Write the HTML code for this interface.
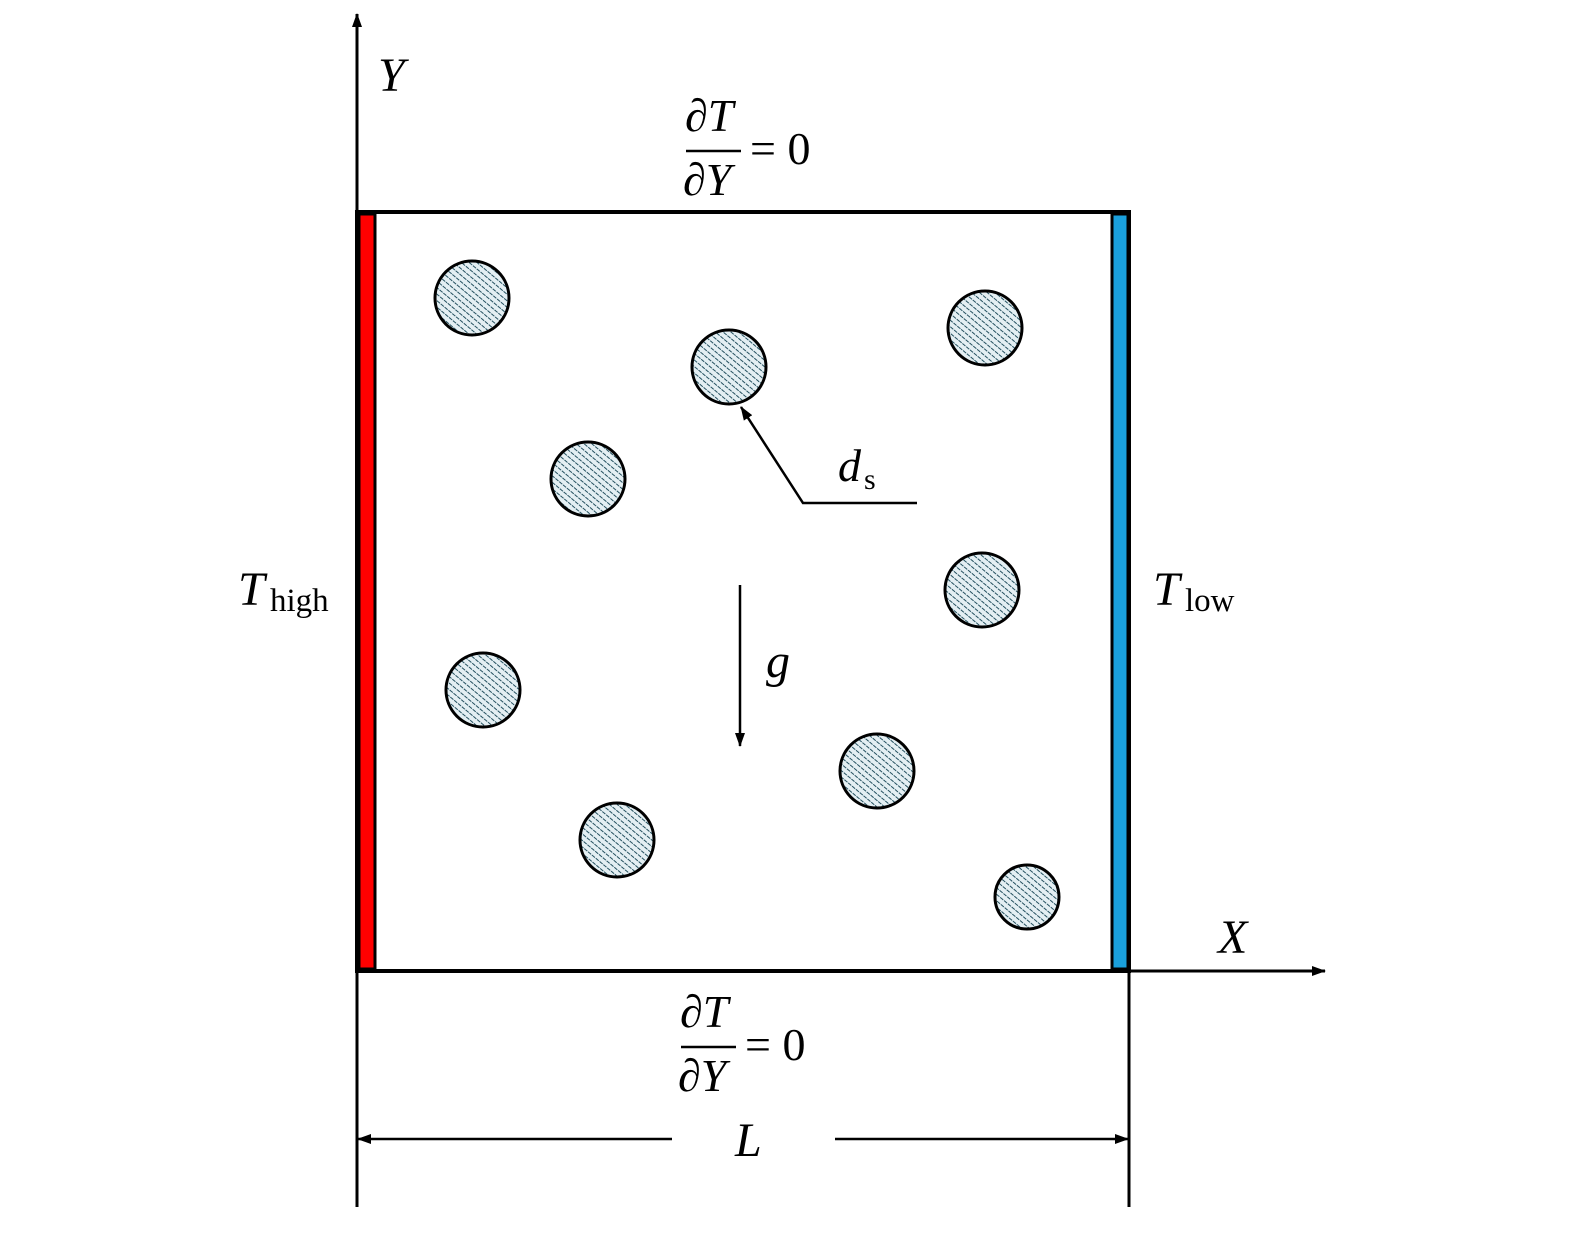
<!DOCTYPE html>
<html><head><style>
html,body{margin:0;padding:0;background:#fff;}
svg text{font-family:"Liberation Serif",serif;fill:#000;}
.i{font-style:italic;}
</style></head><body>
<svg width="1575" height="1230" viewBox="0 0 1575 1230" xmlns="http://www.w3.org/2000/svg">
<defs>
<pattern id="h" width="5" height="5" patternUnits="userSpaceOnUse" patternTransform="rotate(-50)">
<rect width="5" height="5" fill="#e4eff3"/>
<line x1="0" y1="0" x2="0" y2="5" stroke="#24505f" stroke-width="2" stroke-dasharray="2 1"/>
</pattern>
<marker id="a" markerWidth="14" markerHeight="10" refX="13" refY="5" orient="auto" markerUnits="userSpaceOnUse">
<path d="M0,0 L14,5 L0,10 Z" fill="#000"/>
</marker>
</defs>
<line x1="357" y1="1207" x2="357" y2="14" stroke="#000" stroke-width="3" marker-end="url(#a)"/>
<line x1="357" y1="971" x2="1325" y2="971" stroke="#000" stroke-width="3" marker-end="url(#a)"/>
<line x1="1129" y1="971" x2="1129" y2="1207" stroke="#000" stroke-width="3"/>
<rect x="357" y="212" width="772" height="759" fill="none" stroke="#000" stroke-width="4"/>
<rect x="359" y="214" width="16" height="755" fill="#f00" stroke="#000" stroke-width="3"/>
<rect x="1112" y="214" width="16" height="755" fill="#1aa0dc" stroke="#000" stroke-width="3"/>
<g fill="url(#h)" stroke="#000" stroke-width="3">
<circle cx="472" cy="298" r="37"/>
<circle cx="729" cy="367" r="37"/>
<circle cx="985" cy="328" r="37"/>
<circle cx="588" cy="479" r="37"/>
<circle cx="982" cy="590" r="37"/>
<circle cx="483" cy="690" r="37"/>
<circle cx="877" cy="771" r="37"/>
<circle cx="617" cy="840" r="37"/>
<circle cx="1027" cy="897" r="32"/>
</g>
<line x1="740" y1="585" x2="740" y2="746" stroke="#000" stroke-width="2.5" marker-end="url(#a)"/>
<polyline points="917,503 803,503 741,407" fill="none" stroke="#000" stroke-width="2.5" marker-end="url(#a)"/>
<line x1="672" y1="1139" x2="358" y2="1139" stroke="#000" stroke-width="2.5" marker-end="url(#a)"/>
<line x1="835" y1="1139" x2="1128" y2="1139" stroke="#000" stroke-width="2.5" marker-end="url(#a)"/>
<text x="378" y="91" font-size="48" class="i">Y</text>
<text x="1218" y="953" font-size="48" class="i">X</text>
<text x="735" y="1156" font-size="48" class="i">L</text>
<text x="766" y="677" font-size="48" class="i">g</text>
<text x="838" y="481" font-size="46" class="i">d</text><text x="864" y="489" font-size="30">s</text>
<text x="238" y="605" font-size="48" class="i">T</text><text x="270" y="611" font-size="33">high</text>
<text x="1153" y="605" font-size="48" class="i">T</text><text x="1185" y="611" font-size="33">low</text>
<text x="685" y="131" font-size="46" class="i">∂T</text>
<line x1="686" y1="151" x2="741" y2="151" stroke="#000" stroke-width="2.5"/>
<text x="683" y="195" font-size="46" class="i">∂Y</text>
<text x="750" y="164" font-size="46">= 0</text>
<text x="680" y="1027" font-size="46" class="i">∂T</text>
<line x1="681" y1="1047" x2="736" y2="1047" stroke="#000" stroke-width="2.5"/>
<text x="678" y="1091" font-size="46" class="i">∂Y</text>
<text x="745" y="1060" font-size="46">= 0</text>
</svg>
</body></html>
